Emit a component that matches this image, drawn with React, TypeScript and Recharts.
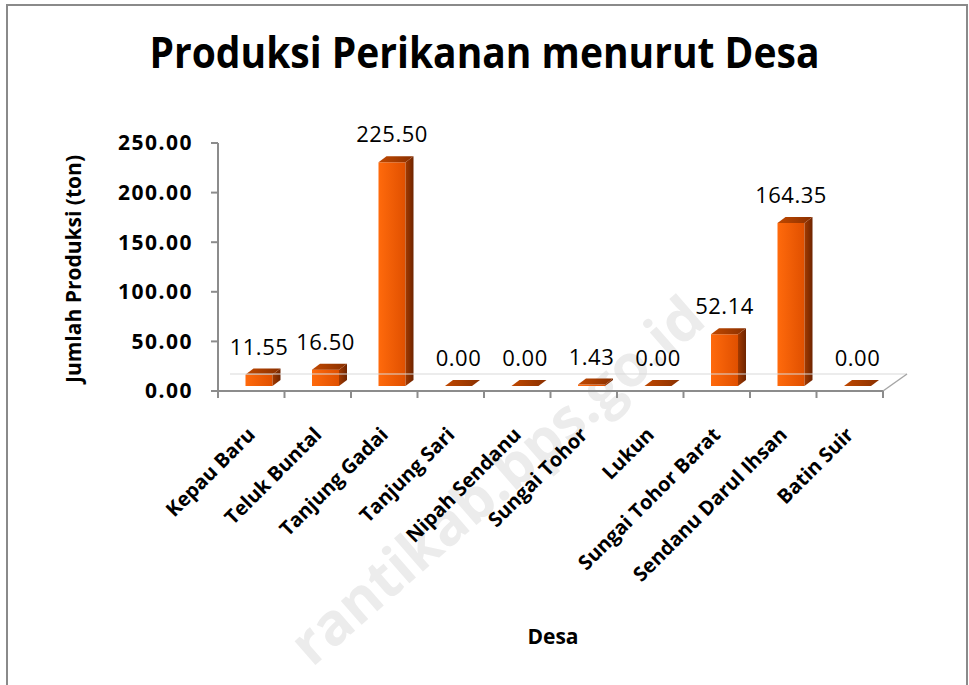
import { BarChart, Bar, XAxis, YAxis, LabelList, ReferenceLine } from 'recharts';

const desa = [
  'Kepau Baru',
  'Teluk Buntal',
  'Tanjung Gadai',
  'Tanjung Sari',
  'Nipah Sendanu',
  'Sungai Tohor',
  'Lukun',
  'Sungai Tohor Barat',
  'Sendanu Darul Ihsan',
  'Batin Suir',
];
const produksi = [11.55, 16.5, 225.5, 0, 0, 1.43, 0, 52.14, 164.35, 0];
const yTicks = [0, 50, 100, 150, 200, 250];

const data = desa.map((d, i) => ({ desa: d, produksi: produksi[i] }));

const FONT = '"Open Sans", "DejaVu Sans", sans-serif';
const W = 969;
const H = 685;
const PLOT_LEFT = 218;
const PLOT_RIGHT = 883;
const BAND = (PLOT_RIGHT - PLOT_LEFT) / desa.length;

// 3d look: front face is pushed a little right / up, plus depth for side and top
const SHIFT_X = 7.5;
const SHIFT_Y = 5;
const DEPTH_X = 8;
const DEPTH_Y = 6;

function Bar3D(props: any) {
  const { x, y, width, height } = props;
  if (x == null || y == null) return null;
  const fx = x + SHIFT_X;
  const fy = y - SHIFT_Y;
  const h = Math.max(0, height || 0);
  const w = width;
  return (
    <g>
      {h > 0 && <rect x={fx} y={fy} width={w} height={h} fill="url(#frontGrad)" />}
      {h > 0 && (
        <polygon
          points={`${fx + w},${fy} ${fx + w + DEPTH_X},${fy - DEPTH_Y} ${fx + w + DEPTH_X},${fy + h - DEPTH_Y} ${fx + w},${fy + h}`}
          fill="url(#sideGrad)"
        />
      )}
      <polygon
        points={`${fx},${fy} ${fx + DEPTH_X},${fy - DEPTH_Y} ${fx + w + DEPTH_X},${fy - DEPTH_Y} ${fx + w},${fy}`}
        fill="url(#topGrad)"
      />
    </g>
  );
}

function ValueLabel(props: any) {
  const { x, y, width, value } = props;
  return (
    <text
      x={x + width / 2 + SHIFT_X}
      y={y - SHIFT_Y - 20}
      textAnchor="middle"
      fontFamily={FONT}
      fontSize={22}
      letterSpacing={0.5}
      fill="#000"
    >
      {Number(value).toFixed(2)}
    </text>
  );
}

function DesaTick(props: any) {
  const { x, y, payload, index } = props;
  const ax = x + 5;
  const ay = y + 45;
  return (
    <g>
      <line x1={x - BAND / 2} y1={y} x2={x - BAND / 2} y2={y + 7} stroke="#8c8c8c" strokeWidth={2} />
      {index === desa.length - 1 && (
        <line x1={x + BAND / 2} y1={y} x2={x + BAND / 2} y2={y + 7} stroke="#8c8c8c" strokeWidth={2} />
      )}
      <text
        x={ax}
        y={ay}
        textAnchor="end"
        transform={`rotate(-45, ${ax}, ${ay})`}
        fontFamily={FONT}
        fontWeight="bold"
        fontSize={20}
        fill="#000"
      >
        {payload.value}
      </text>
    </g>
  );
}

function Floor(props: any) {
  const { x1, y1, x2, y2 } = props;
  return (
    <g>
      <line x1={x1 + 12} y1={y1 - 17} x2={x2 + 24} y2={y2 - 17} stroke="#d9d9d9" strokeWidth={1} />
      <line x1={x2} y1={y2} x2={x2 + 24} y2={y2 - 17} stroke="#a6a6a6" strokeWidth={1.5} />
    </g>
  );
}

export default function App() {
  return (
    <div
      style={{
        position: 'absolute',
        left: 0,
        top: 0,
        width: W,
        height: H,
        overflow: 'hidden',
        background: '#fff',
      }}
    >
      <svg width={W} height={H} style={{ position: 'absolute', left: 0, top: 0 }}>
        <text
          x={312}
          y={668}
          transform="rotate(-41, 312, 668)"
          fontFamily={FONT}
          fontWeight="bold"
          fontSize={58}
          fill="#ececec"
        >
          rantikab.bps.go.id
        </text>
      </svg>
      <div
        style={{
          position: 'absolute',
          left: 6,
          top: 4,
          width: 958,
          height: 720,
          border: '2px solid #8a8a8a',
        }}
      />
      <div
        style={{
          position: 'absolute',
          left: 0,
          width: W,
          top: 24,
          textAlign: 'center',
          fontFamily: FONT,
          fontWeight: 'bold',
          fontSize: 39,
          color: '#000',
          transform: 'scaleY(1.12)',
        }}
      >
        Produksi Perikanan menurut Desa
      </div>
      <div
        style={{
          position: 'absolute',
          left: 73,
          top: 269,
          transform: 'translate(-50%, -50%) rotate(-90deg)',
          whiteSpace: 'nowrap',
          fontFamily: FONT,
          fontWeight: 'bold',
          fontSize: 21,
          color: '#000',
        }}
      >
        Jumlah Produksi (ton)
      </div>
      <div
        style={{
          position: 'absolute',
          left: 553,
          top: 636,
          transform: 'translate(-50%, -50%)',
          fontFamily: FONT,
          fontWeight: 'bold',
          fontSize: 21,
          color: '#000',
        }}
      >
        Desa
      </div>
      <div style={{ position: 'absolute', left: 0, top: 0 }}>
        <BarChart
          width={W}
          height={H}
          data={data}
          margin={{ top: 143, right: W - PLOT_RIGHT, left: PLOT_LEFT - 100, bottom: H - 391 - 200 }}
          barSize={27}
        >
          <defs>
            <linearGradient id="frontGrad" x1="0" y1="0" x2="1" y2="0">
              <stop offset="0%" stopColor="#ff6a0c" />
              <stop offset="100%" stopColor="#e05000" />
            </linearGradient>
            <linearGradient id="sideGrad" x1="0" y1="0" x2="1" y2="0">
              <stop offset="0%" stopColor="#a33a00" />
              <stop offset="100%" stopColor="#6e2400" />
            </linearGradient>
            <linearGradient id="topGrad" x1="0" y1="0" x2="1" y2="0">
              <stop offset="0%" stopColor="#c04800" />
              <stop offset="100%" stopColor="#8a3000" />
            </linearGradient>
          </defs>
          <XAxis
            dataKey="desa"
            interval={0}
            height={200}
            tickLine={false}
            tickSize={0}
            tickMargin={0}
            axisLine={{ stroke: '#8c8c8c', strokeWidth: 2 }}
            tick={<DesaTick />}
          />
          <YAxis
            width={100}
            domain={[0, 250]}
            ticks={yTicks}
            tickFormatter={(v: number) => v.toFixed(2)}
            axisLine={{ stroke: '#8c8c8c', strokeWidth: 2 }}
            tickLine={{ stroke: '#8c8c8c', strokeWidth: 2 }}
            tickSize={7}
            tickMargin={18}
            tick={{ fill: '#000', fontFamily: FONT, fontWeight: 'bold', fontSize: 21, letterSpacing: 1.5 }}
          />
          <ReferenceLine y={0} stroke="#d9d9d9" shape={<Floor />} />
          <Bar dataKey="produksi" shape={<Bar3D />} isAnimationActive={false}>
            <LabelList dataKey="produksi" content={<ValueLabel />} />
          </Bar>
        </BarChart>
      </div>
    </div>
  );
}
